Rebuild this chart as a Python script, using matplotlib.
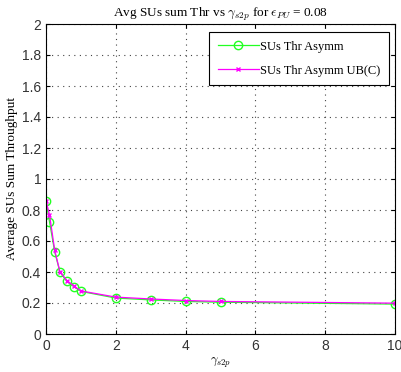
import matplotlib
matplotlib.use("Agg")
import matplotlib.pyplot as plt

gamma = [0.0, 0.1, 0.25, 0.4, 0.6, 0.8, 1.0, 2.0, 3.0, 4.0, 5.0, 10.0]
thr_asymm = [0.86, 0.725, 0.53, 0.40, 0.34, 0.305, 0.275, 0.232, 0.22, 0.21, 0.205, 0.193]
thr_asymm_ub = [0.86, 0.77, 0.54, 0.40, 0.345, 0.31, 0.278, 0.238, 0.226, 0.216, 0.21, 0.199]

plt.rcParams['mathtext.fontset'] = 'cm'
serif = ['Liberation Serif', 'DejaVu Serif']

fig = plt.figure(figsize=(4.01, 3.72), dpi=100)
ax = fig.add_axes([46/401, 1 - 334/372, 349/401, 310/372])

ax.plot(gamma, thr_asymm, color='#22ff22', marker='o', markersize=6,
        markerfacecolor='none', markeredgecolor='#22ff22', linewidth=0.9,
        label='SUs Thr Asymm')
ax.plot(gamma, thr_asymm_ub, color='#ff00ff', marker='x', markersize=3.5,
        linewidth=0.9, label='SUs Thr Asymm UB(C)')

ax.set_xlim(0, 10)
ax.set_ylim(0, 2)
ax.set_xticks([0, 2, 4, 6, 8, 10])
ax.set_yticks([0, 0.2, 0.4, 0.6, 0.8, 1, 1.2, 1.4, 1.6, 1.8, 2])
ax.set_yticklabels(['0', '0.2', '0.4', '0.6', '0.8', '1', '1.2', '1.4', '1.6', '1.8', '2'])
ax.tick_params(direction='in', labelsize=10, length=3, top=True, right=True,
               colors='black', labelcolor='#333333')
for lbl in ax.get_xticklabels() + ax.get_yticklabels():
    lbl.set_family(['Liberation Sans', 'DejaVu Sans'])
ax.grid(True, linestyle=(0, (1, 4)), color='#444444', linewidth=0.8)
for s in ax.spines.values():
    s.set_linewidth(0.8)

ax.set_title(r'Avg SUs sum Thr vs $\gamma_{s2p}$ for $\epsilon_{PU}$ = 0.08',
             fontsize=9.5, family=serif, pad=5)
ax.set_xlabel(r'$\gamma_{s2p}$', fontsize=9, labelpad=2)
ax.set_ylabel('Average SUs Sum Throughput', fontsize=9.5, family=serif, labelpad=3)

leg = ax.legend(loc='upper right', bbox_to_anchor=(0.983, 0.974), fancybox=False,
                edgecolor='black', framealpha=1, prop={'family': serif, 'size': 9},
                borderpad=0.7, labelspacing=0.95, handlelength=3.3, handletextpad=0.1,
                borderaxespad=0)
leg.get_frame().set_linewidth(0.8)

fig.savefig('out.png', dpi=100, facecolor='white')
